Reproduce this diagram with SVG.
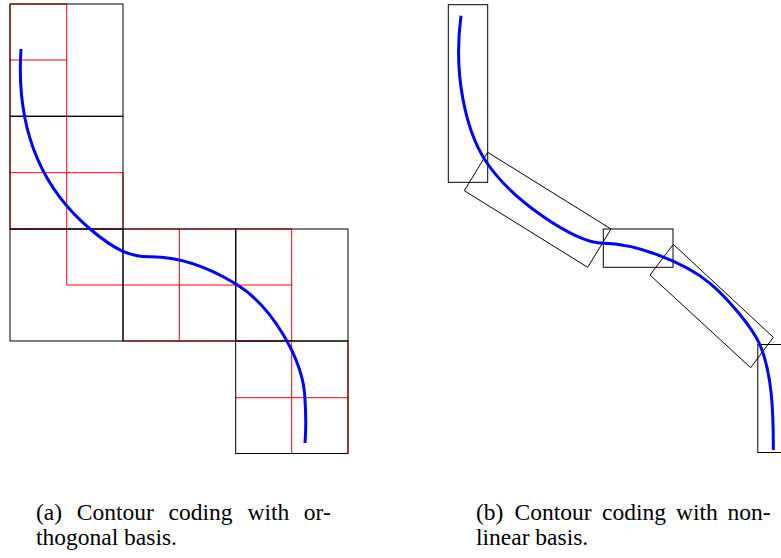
<svg xmlns="http://www.w3.org/2000/svg" width="781" height="558" viewBox="0 0 781 558">
  <style>
    .fine { fill: none; stroke: #ff0000; stroke-width: 1; }
    .cell { fill: none; stroke: #000000; stroke-width: 1; }
    .box { fill: none; stroke: #000000; stroke-width: 1; }
    .contour { fill: none; stroke: #0000ff; stroke-width: 3; stroke-linecap: butt; }
    .caption { font-family: "Liberation Serif", "Times New Roman", serif; font-size: 23.5px; fill: #000000; }
  </style>

  <rect width="781" height="558" fill="#ffffff"/>

  <!-- (a) quadtree of square blocks -->
  <g id="panel-a">
    <g id="fine-blocks">
      <path class="fine" d="M10,4 H66.7 M10,4 V229 M66.7,4 V285 M10,60 H66.7 M10,116.3 H66.7 M10,172.7 H123 M123,172.7 V229 M10,229 H291.7 M66.7,285 H291.7 M179.3,229 V341 M235.7,229 V341 M291.7,229 V453.5 M123,341 H291.7 M235.7,397.7 H348 M348,341 V453.5 M291.7,453.5 H348"/>
    </g>
    <g id="coarse-blocks">
      <rect class="cell" x="10" y="4" width="113" height="112.3"/>
      <rect class="cell" x="10" y="116.3" width="113" height="112.7"/>
      <rect class="cell" x="10" y="229" width="113" height="112"/>
      <rect class="cell" x="123" y="229" width="112.7" height="112"/>
      <rect class="cell" x="235.7" y="229" width="112.3" height="112"/>
      <rect class="cell" x="235.7" y="341" width="112.3" height="112.5"/>
    </g>
    <g id="contour-a">
      <path class="contour" d="M21,49 C16,125 38,185 90,229 C115,250 130,257 150,256.7 C170,256.5 200,262 236,284 C272,306 304,360 305,400 C306,415 306,430 305,443"/>
    </g>
  </g>

  <!-- (b) oriented rectangular bases -->
  <g id="panel-b">
    <g id="basis-1"><rect class="box" x="448.3" y="4.7" width="39.4" height="177.6"/></g>
    <g id="basis-2"><polygon class="box" points="487.7,152.3 611,229 587.7,267.3 464.3,190.7"/></g>
    <g id="basis-3"><rect class="box" x="603.3" y="229" width="69.7" height="38.3"/></g>
    <g id="basis-4"><polygon class="box" points="673.3,244.3 773.3,337.3 750.7,367.7 650,275"/></g>
    <g id="basis-5"><rect class="box" x="757.8" y="344.5" width="39.4" height="108"/></g>
    <g id="contour-b">
      <path class="contour" d="M461,15.7 C453,75 466.1,130.6 485,160 C509.3,197.8 573.3,243.3 603.3,243.3 C633,243.3 683,260.9 710,283.3 C725.4,296.1 752.2,326.6 760,345 C771.7,372.6 773.5,410 773.3,450"/>
    </g>
  </g>

  <g id="captions">
    <text class="caption" y="520"><tspan x="36">(a)</tspan><tspan x="76.8">Contour</tspan><tspan x="168.5">coding</tspan><tspan x="247.5">with</tspan><tspan x="303.8">or-</tspan></text>
    <text class="caption" x="36" y="545">thogonal basis.</text>
    <text class="caption" y="520"><tspan x="476">(b)</tspan><tspan x="514.5">Contour</tspan><tspan x="602">coding</tspan><tspan x="676">with</tspan><tspan x="727.5">non-</tspan></text>
    <text class="caption" x="476" y="545">linear basis.</text>
  </g>
</svg>
